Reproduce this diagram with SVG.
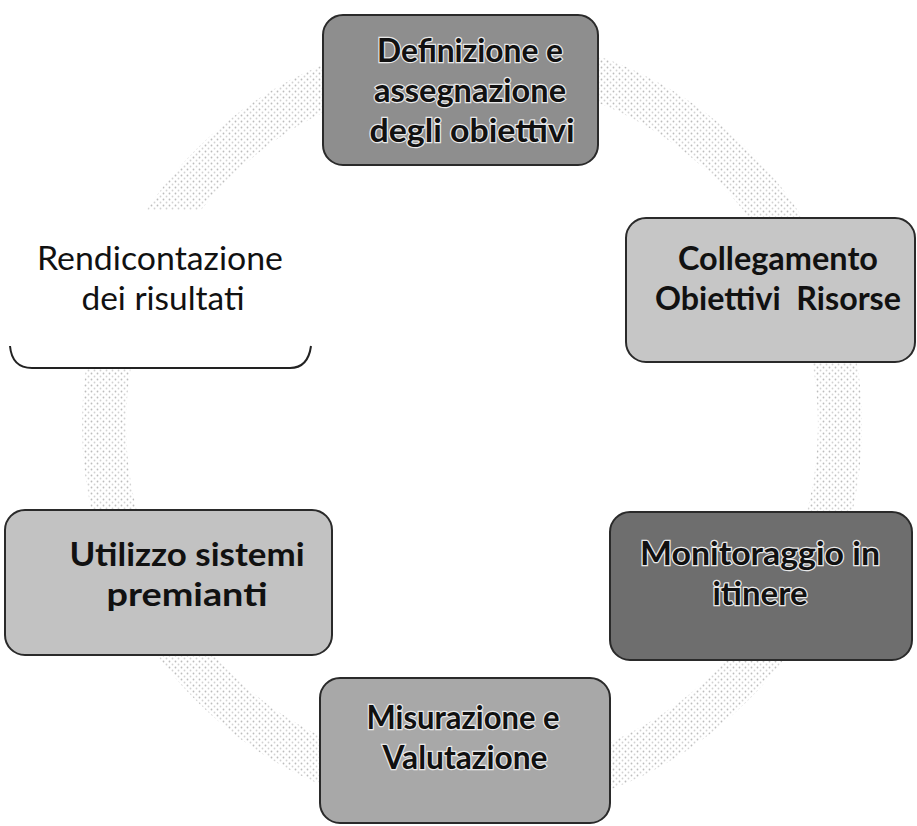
<svg xmlns="http://www.w3.org/2000/svg" width="917" height="826" viewBox="0 0 917 826">
  <defs>
    <pattern id="dots" width="6" height="6" patternUnits="userSpaceOnUse">
      <rect width="6" height="6" fill="#ffffff"/>
      <circle cx="1.5" cy="1.5" r="0.9" fill="#bdbdbd"/>
      <circle cx="4.5" cy="4.5" r="0.9" fill="#d2d2d2"/>
    </pattern>
  </defs>
  <style>
    .box { stroke: #2a2a2a; stroke-width: 2; }
    .t { font-family: Lato, "Open Sans", "Liberation Sans", sans-serif; font-size: 33px; text-anchor: middle; fill: #111; }
    .b { font-weight: bold; }
    .halo { paint-order: stroke; stroke: #e8e8e8; stroke-width: 2.5; }
  </style>
  <rect width="917" height="826" fill="#ffffff"/>
  <g id="connectors">
    <circle cx="472" cy="425" r="368" fill="none" stroke="url(#dots)" stroke-width="44"/>
  </g>
  <g id="n-definizione">
    <rect class="box" x="323" y="15" width="275" height="150" rx="20" fill="#8e8e8e"/>
    <text class="t b halo" x="470" y="62" textLength="186" lengthAdjust="spacingAndGlyphs">Definizione e</text>
    <text class="t b halo" x="470" y="102" textLength="192" lengthAdjust="spacingAndGlyphs">assegnazione</text>
    <text class="t b halo" x="472" y="142" textLength="205" lengthAdjust="spacingAndGlyphs">degli obiettivi</text>
  </g>
  <g id="n-collegamento">
    <rect class="box" x="626" y="218" width="289" height="144" rx="20" fill="#c6c6c6"/>
    <text class="t b" x="778" y="270" textLength="200" lengthAdjust="spacingAndGlyphs">Collegamento</text>
    <text class="t b" x="778" y="310" textLength="246" lengthAdjust="spacingAndGlyphs">Obiettivi&#160; Risorse</text>
  </g>
  <g id="n-rendicontazione">
    <rect x="8" y="210" width="304" height="158" rx="20" fill="#ffffff"/>
    <path d="M 10 346 Q 12 368 32 368 L 290 368 Q 308 368 311 346" fill="none" stroke="#222" stroke-width="2"/>
    <text class="t" x="160" y="270" textLength="246" lengthAdjust="spacingAndGlyphs">Rendicontazione</text>
    <text class="t" x="163" y="310" textLength="163" lengthAdjust="spacingAndGlyphs">dei risultati</text>
  </g>
  <g id="n-monitoraggio">
    <rect class="box" x="610" y="512" width="302" height="148" rx="20" fill="#6e6e6e"/>
    <text class="t b halo" x="760" y="565" textLength="240" lengthAdjust="spacingAndGlyphs">Monitoraggio in</text>
    <text class="t b halo" x="760" y="605" textLength="95" lengthAdjust="spacingAndGlyphs">itinere</text>
  </g>
  <g id="n-utilizzo">
    <rect class="box" x="5" y="510" width="327" height="145" rx="20" fill="#c2c2c2"/>
    <text class="t b" x="187" y="566" textLength="235" lengthAdjust="spacingAndGlyphs">Utilizzo sistemi</text>
    <text class="t b" x="187" y="606" textLength="161" lengthAdjust="spacingAndGlyphs">premianti</text>
  </g>
  <g id="n-misurazione">
    <rect class="box" x="320" y="678" width="290" height="145" rx="20" fill="#a8a8a8"/>
    <text class="t b halo" x="463" y="729" textLength="193" lengthAdjust="spacingAndGlyphs">Misurazione e</text>
    <text class="t b halo" x="465" y="769" textLength="165" lengthAdjust="spacingAndGlyphs">Valutazione</text>
  </g>
</svg>
